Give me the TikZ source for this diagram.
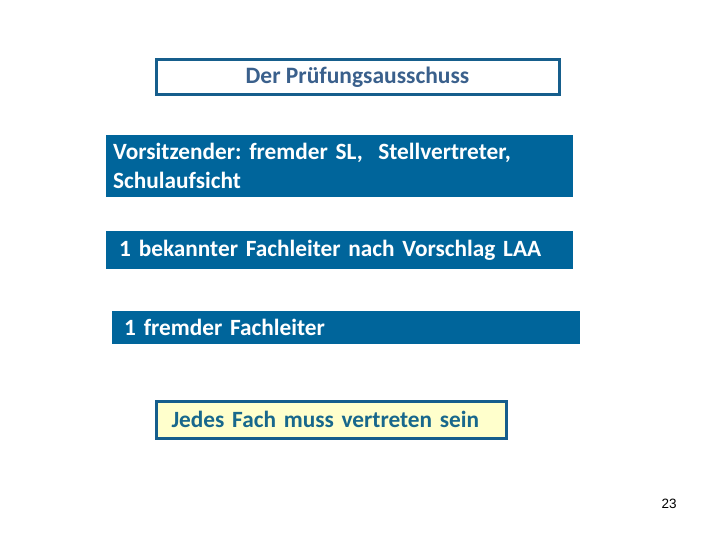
\documentclass[tikz,border=0pt]{standalone}
\usepackage{fontspec}
\setmainfont{Carlito}
\newfontfamily\numfont{Liberation Sans}
\usetikzlibrary{positioning}
\frenchspacing
\definecolor{boxblue}{RGB}{0,101,155}
\definecolor{edgeblue}{RGB}{22,94,140}
\definecolor{titletext}{RGB}{58,96,140}
\definecolor{notetext}{RGB}{24,104,140}
\definecolor{noteyellow}{RGB}{255,255,204}
\tikzset{
  titlebox/.style={draw=edgeblue, line width=3pt, fill=white,
    text=titletext, font=\fontsize{23.5}{28}\selectfont\bfseries,
    minimum width=403pt, minimum height=35pt, inner sep=0pt},
  bluebox/.style={fill=boxblue, text=white, anchor=west, align=left,
    font=\fontsize{23.3}{29}\selectfont\bfseries, inner ysep=0pt},
  notebox/.style={draw=edgeblue, line width=3pt, fill=noteyellow,
    text=notetext, anchor=west, align=left,
    font=\fontsize{23.3}{28}\selectfont\bfseries, inner ysep=0pt},
}
\begin{document}
\begin{tikzpicture}[x=1pt,y=-1pt]
\useasboundingbox (0,0) rectangle (720,540);
% heading
\node[titlebox] (title) at (357.5,77.5) {Der Prüfungsausschuss};
% members
\node[bluebox, minimum width=467pt, minimum height=62pt, inner xsep=7pt, text width=453pt]
  (chair) at (106,166) {Vorsitzender: fremder SL,\ \ Stellvertreter,\\Schulaufsicht};
\node[bluebox, minimum width=467pt, minimum height=38pt, inner xsep=13pt, text width=441pt]
  (known) at (106,250) {1 bekannter Fachleiter nach Vorschlag LAA};
\node[bluebox, minimum width=468pt, minimum height=33pt, inner xsep=12pt, text width=444pt]
  (foreign) at (112,327.5) {1 fremder Fachleiter};
% note
\node[notebox, minimum width=350pt, minimum height=37pt, inner xsep=15pt, text width=320pt]
  (note) at (155,419.5) {Jedes Fach muss vertreten sein};
% page number
\node[font=\numfont\fontsize{13.5}{16}\selectfont] (page) at (669,504) {23};
\end{tikzpicture}
\end{document}
